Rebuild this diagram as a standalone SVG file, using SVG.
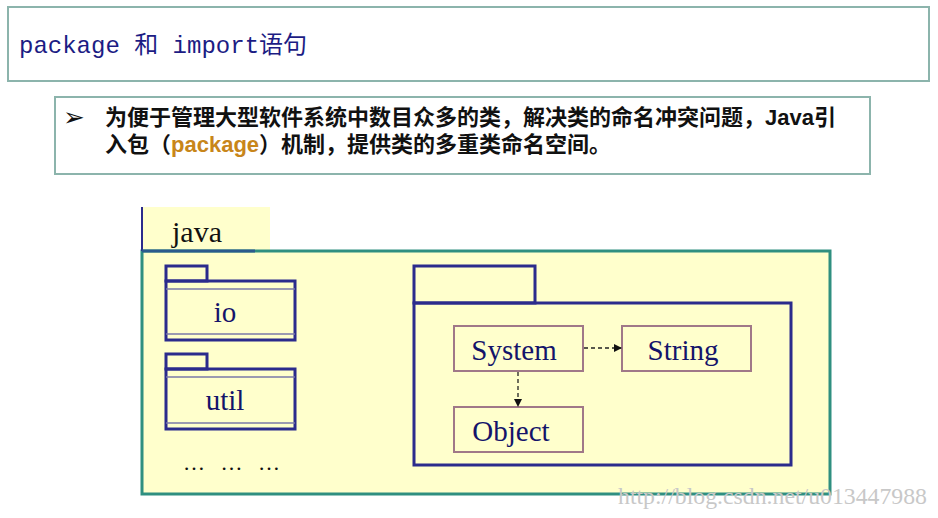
<svg xmlns="http://www.w3.org/2000/svg" width="938" height="518" viewBox="0 0 938 518">
<style>
.frame{fill:#fff;stroke:#8cb4ac;stroke-width:2}
.title{font-family:"Liberation Mono","Noto Sans CJK SC",monospace;font-size:24px;fill:#1c1c84}
.bul{font-family:"Liberation Sans","Noto Sans CJK SC",sans-serif;font-size:22px;font-weight:bold;fill:#111}
.pkg{fill:none;stroke:#2b2b8c;stroke-width:3}
.thin{stroke:#7a78a8;stroke-width:1.5}
.lbl{font-family:"Liberation Serif",serif;font-size:29px;fill:#14146a;text-anchor:middle}
.cls{fill:#ffffcc;stroke:#a07888;stroke-width:2}
.dash{fill:none;stroke:#222;stroke-width:1.3;stroke-dasharray:4 3}
</style>
<defs>
<marker id="ah" markerWidth="8" markerHeight="8" refX="7" refY="4" orient="auto" markerUnits="userSpaceOnUse">
<path d="M0,0 L8,4 L0,8 Z" fill="#111"/>
</marker>
</defs>
<rect width="938" height="518" fill="#fff"/>
<g id="title">
<rect class="frame" x="8" y="7" width="921" height="74"/>
<text class="title" x="19" y="53">package 和 import语句</text>
</g>
<g id="bullet">
<rect class="frame" x="55" y="97" width="815" height="77"/>
<text x="63" y="126" style="font-family:'DejaVu Sans',sans-serif;font-size:26px;fill:#111">➢</text>
<text class="bul" x="105" y="125">为便于管理大型软件系统中数目众多的类，解决类的命名冲突问题，Java引</text>
<text class="bul" x="105" y="152">入包（<tspan fill="#c8861a">package</tspan>）机制，提供类的多重类命名空间。</text>
</g>
<g id="java">
<rect x="142" y="207" width="128" height="45" fill="#ffffcc"/>
<rect x="142" y="251" width="688" height="243" fill="#ffffcc" stroke="#2f8f80" stroke-width="3"/>
<line x1="142" y1="207" x2="142" y2="251" stroke="#2b2b8c" stroke-width="2"/>
<line x1="142" y1="251" x2="255" y2="251" stroke="#2b5a8c" stroke-width="3"/>
<text x="172" y="242" style="font-family:'Liberation Serif',serif;font-size:30px;fill:#111">java</text>
</g>
<g id="io">
<rect class="pkg" x="166" y="266" width="41" height="15"/>
<rect class="pkg" x="166" y="281" width="129" height="59"/>
<line class="thin" x1="166" y1="289" x2="295" y2="289"/>
<line class="thin" x1="166" y1="334" x2="295" y2="334"/>
<text class="lbl" x="225" y="322">io</text>
</g>
<g id="util">
<rect class="pkg" x="166" y="354" width="41" height="15"/>
<rect class="pkg" x="166" y="369" width="129" height="60"/>
<line class="thin" x1="166" y1="377" x2="295" y2="377"/>
<line class="thin" x1="166" y1="423" x2="295" y2="423"/>
<text class="lbl" x="225" y="410">util</text>
</g>
<g id="more">
<text x="183" y="470" textLength="97" lengthAdjust="spacing" style="font-family:'Liberation Serif',serif;font-size:22px;fill:#111">… … …</text>
</g>
<g id="lang">
<rect class="pkg" x="414" y="266" width="121" height="37"/>
<rect class="pkg" x="414" y="303" width="377" height="162"/>
</g>
<g id="System">
<rect class="cls" x="454" y="326" width="129" height="45"/>
<text class="lbl" x="514" y="360">System</text>
</g>
<g id="String">
<rect class="cls" x="622" y="326" width="129" height="45"/>
<text class="lbl" x="683" y="360">String</text>
</g>
<g id="Object">
<rect class="cls" x="454" y="407" width="129" height="45"/>
<text class="lbl" x="511" y="441">Object</text>
</g>
<g id="connectors">
<line class="dash" x1="584" y1="348" x2="621" y2="348" marker-end="url(#ah)"/>
<line class="dash" x1="518" y1="372" x2="518" y2="406" marker-end="url(#ah)"/>
</g>
<text x="618" y="504" textLength="309" lengthAdjust="spacingAndGlyphs" style="font-family:'Liberation Serif',serif;font-size:23px;fill:#c8c8c8">http://blog.csdn.net/u013447988</text>
</svg>
